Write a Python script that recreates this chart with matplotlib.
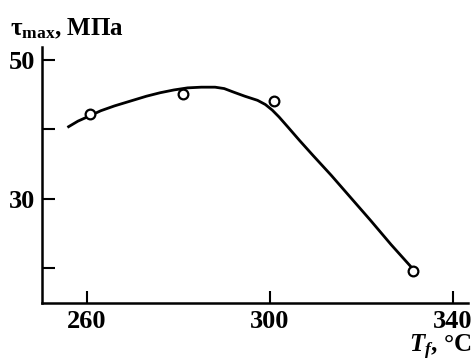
import matplotlib.pyplot as plt
import numpy as np

# measured points
T_pts = [260.7, 280.9, 300.9, 331.4]
tau_pts = [42.2, 45.1, 44.1, 19.6]

# smooth curve
T_curve = [255.7, 258.0, 260.7, 263.0, 266.0, 269.5, 273.0, 276.0, 279.0,
           282.0, 285.0, 288.0, 290.0, 292.0, 294.5, 297.3, 299.0, 300.5,
           302.0, 304.0, 306.5, 309.5, 313.4, 317.5, 322.0, 326.5, 331.4]
tau_curve = [40.3, 41.2, 42.0, 42.7, 43.4, 44.1, 44.8, 45.3, 45.7,
             46.0, 46.1, 46.1, 45.9, 45.4, 44.8, 44.2, 43.6, 42.8,
             41.8, 40.3, 38.4, 36.2, 33.4, 30.3, 26.9, 23.4, 19.8]

x_ticks = [260, 300, 340]
y_ticks = [30, 50]
y_minor = [20, 40]

plt.rcParams['font.family'] = ['Liberation Serif', 'DejaVu Serif']
plt.rcParams['font.weight'] = 'bold'
plt.rcParams['mathtext.fontset'] = 'custom'
plt.rcParams['mathtext.rm'] = 'Liberation Serif:bold'
plt.rcParams['mathtext.bf'] = 'Liberation Serif:bold'
plt.rcParams['mathtext.it'] = 'Liberation Serif:italic:bold'

fig = plt.figure(figsize=(4.75, 3.64), dpi=100)
ax = fig.add_axes([0.088, 0.168, 0.897, 0.703])

ax.plot(T_curve, tau_curve, color='black', lw=2.0, solid_capstyle='butt')
ax.plot(T_pts, tau_pts, 'o', ms=7, mfc='white', mec='black', mew=1.6)

ax.set_xlim(250.1, 343.3)
ax.set_ylim(15.0, 51.9)
ax.set_xticks(x_ticks)
ax.set_yticks(y_ticks)
ax.set_yticks(y_minor, minor=True)
ax.tick_params(axis='both', which='both', direction='in', length=9, width=1.5,
               labelsize=19, pad=5)
ax.tick_params(axis='x', pad=5)

for s in ['top', 'right']:
    ax.spines[s].set_visible(False)
for s in ['left', 'bottom']:
    ax.spines[s].set_linewidth(1.8)

fig.text(0.02, 0.904, r'τ$_{\mathrm{max}}$, МПа', fontsize=18,
         fontweight='bold', va='baseline', ha='left')
fig.text(0.992, 0.032, r'$T_f$, °C', fontsize=18,
         ha='right', va='baseline')

plt.savefig('out.png', dpi=100)
